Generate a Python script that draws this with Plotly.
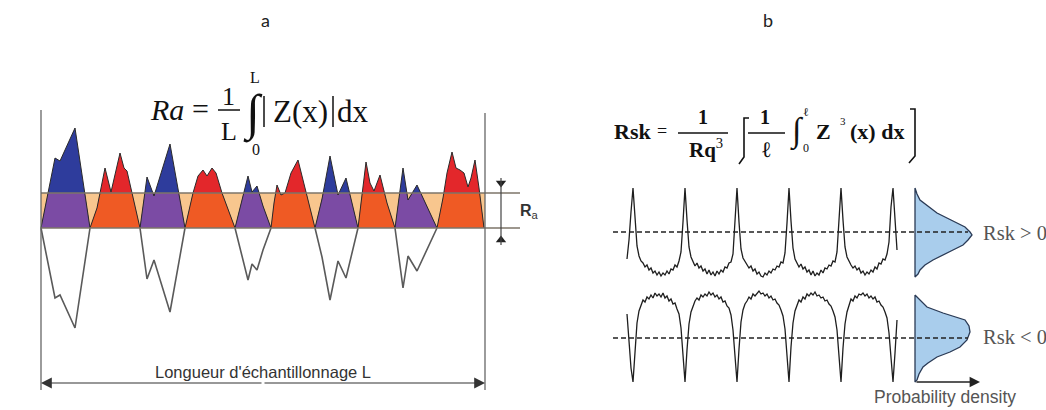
import plotly.graph_objects as go

W, H = 1046, 410

# ---------------- Panel a : Ra (profile heights, px units, + = up) ----------------
profile_x = [41, 55, 60, 75, 90,
             97, 105, 111, 120, 124, 127, 133, 140,
             147, 154, 170, 185,
             193, 198, 203, 207, 212, 216, 222, 235,
             241, 248, 252, 257, 263, 271,
             274, 277, 281, 285, 291, 298, 304, 310, 315,
             322, 330, 338, 346, 352, 358,
             362, 366, 370, 374, 380, 387, 395,
             403, 408, 417, 437,
             443, 447, 452, 456, 460, 464, 468, 471, 475, 479, 484]
profile_z = [0, -70, -67, -100, 0,
             20, 60, 36, 75, 60, 57, 30, 0,
             -51, -32, -84, 0,
             35, 52, 58, 52, 60, 55, 35, 0,
             -25, -52, -36, -42, -22, 0,
             25, 43, 33, 35, 55, 68, 45, 20, 0,
             -29, -72, -33, -50, -25, 0,
             35, 66, 45, 37, 53, 25, 0,
             -60, -28, -43, 0,
             30, 55, 76, 60, 58, 55, 41, 50, 68, 40, 0]
ra_level = 35

# ---------------- Panel b : Rsk (signal heights about the mean line, sampled every 2 px) ----------------
pos_skew_h = [
    -27, -8, 20,
    44, 15, -14, -24, -29, -31, -35, -33, -38, -36, -41, -39, -43, -40, -44, -41, -43, -39, -42, -37, -38, -33, -35, -29, -20, 10,
    44, 12, -15, -25, -30, -34, -31, -36, -34, -39, -37, -42, -38, -43, -40, -44, -39, -42, -38, -40, -35, -36, -31, -30, -22, 8,
    44, 10, -17, -26, -29, -33, -36, -34, -39, -37, -42, -40, -44, -45, -41, -43, -39, -41, -37, -38, -34, -35, -30, -31, -21, 9,
    44, 11, -16, -27, -31, -35, -32, -37, -35, -40, -38, -43, -39, -44, -41, -43, -38, -41, -36, -37, -33, -34, -29, -30, -20, 10,
    44, 12, -15, -25, -30, -33, -36, -34, -38, -36, -41, -39, -43, -40, -42, -38, -40, -35, -37, -31, -32, -27, -28, -22, -10, 25,
    44, 8, -18,
]
neg_skew_h = [
    24, 0, -30,
    -44, -10, 15, 27, 33, 38, 36, 41, 39, 43, 40, 45, 42, 44, 41, 45, 40, 42, 37, 39, 34, 35, 29, 24, 10, -20,
    -44, -12, 14, 26, 32, 37, 40, 38, 43, 41, 44, 42, 46, 43, 45, 41, 43, 39, 41, 36, 37, 32, 30, 23, 8, -22,
    -44, -11, 16, 28, 34, 37, 41, 39, 44, 42, 45, 47, 44, 45, 42, 44, 40, 42, 38, 39, 35, 33, 28, 22, 9, -21,
    -44, -9, 15, 27, 33, 38, 36, 41, 39, 44, 42, 45, 43, 46, 42, 43, 40, 41, 37, 38, 34, 32, 27, 21, 8, -20,
    -44, -10, 14, 26, 34, 39, 37, 42, 40, 44, 43, 45, 42, 44, 40, 42, 39, 41, 36, 37, 33, 31, 26, 20, 5, -25,
    -44, -15, 18,
]
pos_dist_h = [44, 38, 32, 25, 19, 12, 5, 0, -3, -8, -13, -18, -23, -28, -33, -38, -42, -45]
pos_dist_d = [0, 2, 5, 14, 22, 36, 50, 55, 57, 53, 48, 38, 28, 18, 10, 5, 3, 0]
neg_dist_h = [43, 38, 31, 25, 18, 12, 6, -2, -9, -14, -19, -25, -29, -36, -42, -44]
neg_dist_d = [0, 5, 12, 28, 50, 54, 55, 52, 45, 35, 22, 13, 8, 4, 2, 0]

# ---------------- layout constants ----------------
MEAN_Y = 228
LEFT_X, RIGHT_X = 41, 485
SIG_X0, SIG_STEP = 627, 2
POS_Y, NEG_Y = 232, 338
DIST_X = 915

BLUE, RED = "#2E3C9C", "#E3272B"
PURPLE, ORANGE = "#7B4BA4", "#EF5A24"
PEACH = "#F8C68E"
SERIF = "Liberation Serif, Times New Roman, serif"
SANS = "Liberation Sans, Arial, sans-serif"

fig = go.Figure()


def poly(xs, ys, fill, line=None, width=0):
    fig.add_trace(go.Scatter(x=xs, y=ys, mode="lines", fill="toself", fillcolor=fill,
                             line=dict(color=line or fill, width=width),
                             hoverinfo="skip", showlegend=False))


def path(xs, ys, color, width, dash=None):
    fig.add_trace(go.Scatter(x=xs, y=ys, mode="lines",
                             line=dict(color=color, width=width, dash=dash),
                             hoverinfo="skip", showlegend=False))


def txt(x, y, s, size, family=SERIF, color="#111", xanchor="center", yanchor="middle"):
    fig.add_annotation(x=x, y=y, xref="x", yref="y", text=s, showarrow=False,
                       font=dict(family=family, size=size, color=color),
                       xanchor=xanchor, yanchor=yanchor)


def clip_top(xs, zs, c):
    ox, oz = [xs[0]], [min(zs[0], c)]
    for i in range(1, len(xs)):
        x0, z0, x1, z1 = xs[i - 1], zs[i - 1], xs[i], zs[i]
        if (z0 - c) * (z1 - c) < 0:
            t = (c - z0) / (z1 - z0)
            ox.append(x0 + t * (x1 - x0))
            oz.append(c)
        ox.append(x1)
        oz.append(min(z1, c))
    return ox, oz


# ---------- Panel a ----------
fig.add_shape(type="rect", x0=LEFT_X, x1=RIGHT_X, y0=MEAN_Y - ra_level, y1=MEAN_Y,
              fillcolor=PEACH, line=dict(width=0), layer="below")

segments = []
start = 0
for i in range(1, len(profile_x)):
    if profile_z[i] == 0:
        segments.append((profile_x[start:i + 1], profile_z[start:i + 1]))
        start = i

for xs, zs in segments:
    valley = min(zs) < 0
    az = [abs(v) for v in zs]
    poly(xs, [MEAN_Y - v for v in az], BLUE if valley else RED)
    cx, cz = clip_top(xs, az, ra_level)
    poly(cx, [MEAN_Y - v for v in cz], PURPLE if valley else ORANGE)
    path(xs, [MEAN_Y - v for v in az], "#2a2a2a", 1)
    if valley:
        path(xs, [MEAN_Y - v for v in zs], "#5a5a5a", 1.6)

for yy in (MEAN_Y - ra_level, MEAN_Y):
    fig.add_shape(type="line", x0=LEFT_X, x1=520, y0=yy, y1=yy, line=dict(color="#7d7468", width=1.3))
fig.add_shape(type="line", x0=LEFT_X, x1=LEFT_X, y0=110, y1=390, line=dict(color="#666", width=1.3))
fig.add_shape(type="line", x0=RIGHT_X, x1=RIGHT_X, y0=113, y1=390, line=dict(color="#666", width=1.3))

# Ra dimension arrows
fig.add_shape(type="line", x0=501, x1=501, y0=178, y1=245, line=dict(color="#444", width=1.2))
fig.add_trace(go.Scatter(x=[501, 501], y=[183, 240], mode="markers",
                         marker=dict(symbol=["triangle-down", "triangle-up"], size=9, color="#222"),
                         hoverinfo="skip", showlegend=False))
txt(518, 211, "<b>R</b><sub>a</sub>", 16, SANS, "#333", xanchor="left")

# sampling length arrow
for hx in (LEFT_X, RIGHT_X):
    fig.add_annotation(x=hx, y=383, ax=(LEFT_X + RIGHT_X) / 2, ay=383, xref="x", yref="y",
                       axref="x", ayref="y", text="", showarrow=True, arrowhead=2,
                       arrowsize=1.8, arrowwidth=1.2, arrowcolor="#333", standoff=0)
txt(263, 372, "Longueur d'échantillonnage L", 16.5, SANS, "#333")

# Ra formula
txt(167, 109, "<i>Ra</i>", 30)
txt(200, 108, "=", 30)
txt(228, 96, "1", 26)
fig.add_shape(type="line", x0=218, x1=240, y0=110, y1=110, line=dict(color="#111", width=1.5))
txt(229, 131, "L", 26)
txt(253, 113, "∫", 50)
txt(255, 77, "L", 16)
txt(256, 149, "0", 16)
fig.add_shape(type="line", x0=264, x1=264, y0=96, y1=127, line=dict(color="#111", width=1.5))
txt(300, 111, "Z(x)", 31)
fig.add_shape(type="line", x0=333, x1=333, y0=96, y1=127, line=dict(color="#111", width=1.5))
txt(353, 111, "dx", 31)

# ---------- Panel b ----------
sig_x_pos = [SIG_X0 + SIG_STEP * i for i in range(len(pos_skew_h))]
sig_x_neg = [SIG_X0 + SIG_STEP * i for i in range(len(neg_skew_h))]
path(sig_x_pos, [POS_Y - v for v in pos_skew_h], "#1e1e1e", 1.3)
path(sig_x_neg, [NEG_Y - v for v in neg_skew_h], "#1e1e1e", 1.3)

for dh, dd, base in ((pos_dist_h, pos_dist_d, POS_Y), (neg_dist_h, neg_dist_d, NEG_Y)):
    xs = [DIST_X + v for v in dd] + [DIST_X]
    ys = [base - v for v in dh] + [base - dh[0]]
    poly(xs, ys, "#A9CDEC", "#2a3a55", 1.3)

for base in (POS_Y, NEG_Y):
    path([613, 968], [base, base], "#222", 1.4, dash="5px,3px")

fig.add_annotation(x=980, y=382, ax=DIST_X, ay=382, xref="x", yref="y", axref="x", ayref="y",
                   text="", showarrow=True, arrowhead=2, arrowsize=1.6, arrowwidth=1.3,
                   arrowcolor="#222", standoff=0)
txt(945, 397, "Probability density", 17.5, SANS, "#555")
txt(981, 233, "Rsk &gt; 0", 20.5, SERIF, "#555", xanchor="left")
txt(981, 337, "Rsk &lt; 0", 20.5, SERIF, "#555", xanchor="left")

# Rsk formula
txt(612, 131, "<b>Rsk</b>", 22, xanchor="left")
txt(662, 131, "=", 18)
txt(703, 117, "<b>1</b>", 20)
fig.add_shape(type="line", x0=678, x1=728, y0=133, y1=133, line=dict(color="#111", width=1.3))
txt(706, 148, "<b>Rq</b><sup>3</sup>", 21)
fig.add_shape(type="path", path="M 749 118 L 744 118 L 744 157 L 739 164",
              line=dict(color="#111", width=1.6))
txt(765, 117, "<b>1</b>", 20)
fig.add_shape(type="line", x0=748, x1=785, y0=133, y1=133, line=dict(color="#111", width=1.3))
txt(766, 149, "ℓ", 22)
txt(797, 131, "∫", 34)
txt(806, 112, "ℓ", 12)
txt(806, 148, "0", 12)
txt(823, 131, "<b>Z</b>", 22)
txt(843, 121, "3", 11)
txt(877, 131, "<b>(x) dx</b>", 22)
fig.add_shape(type="path", path="M 910 109 L 915 109 L 915 156 L 909 163",
              line=dict(color="#111", width=1.6))

# panel letters
txt(265, 20, "a", 18, "Lato, Open Sans, sans-serif", "#222")
txt(768, 20, "b", 18, "Lato, Open Sans, sans-serif", "#222")

fig.update_layout(
    width=W, height=H, margin=dict(l=0, r=0, t=0, b=0),
    paper_bgcolor="white", plot_bgcolor="white", showlegend=False,
    xaxis=dict(range=[0, W], visible=False, fixedrange=True),
    yaxis=dict(range=[H, 0], visible=False, fixedrange=True),
)
fig.write_html("out.html", config={"displayModeBar": False},
               post_script="document.body.style.margin='0px';")
